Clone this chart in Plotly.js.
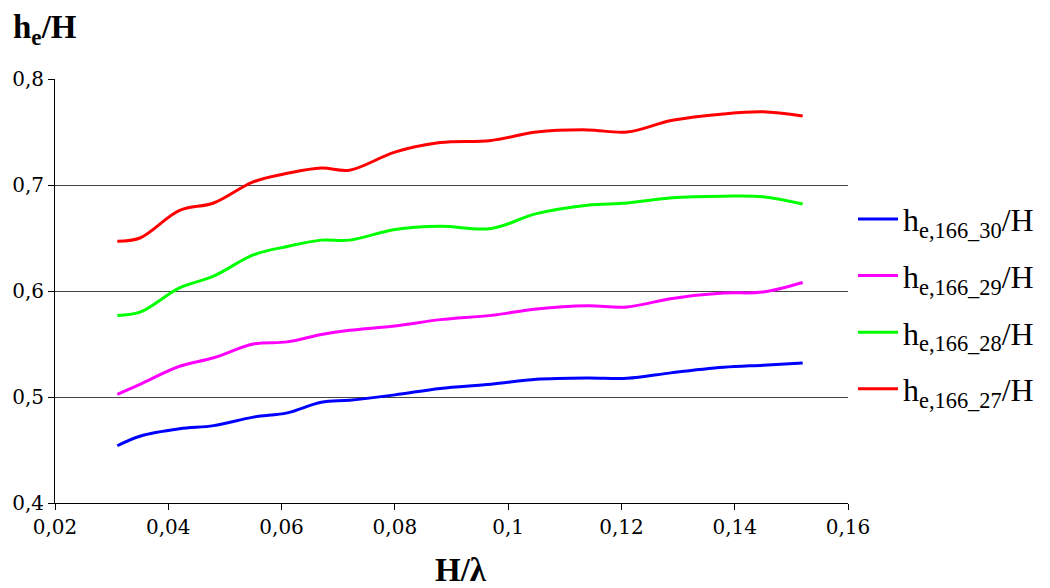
<!DOCTYPE html>
<html>
<head>
<meta charset="utf-8">
<script src="https://cdn.plot.ly/plotly-3.0.1.min.js"></script>
<style>html,body{margin:0;padding:0;background:#fff;}#chart{width:1050px;height:588px;}</style>
</head>
<body>
<div id="chart"></div>
<script>
const xValues = [0.031, 0.035, 0.042, 0.048, 0.055, 0.061, 0.067, 0.072, 0.080, 0.088, 0.097, 0.105, 0.114, 0.121, 0.129, 0.138, 0.145, 0.152];
const he30 = [0.454, 0.463, 0.470, 0.473, 0.481, 0.485, 0.495, 0.497, 0.502, 0.508, 0.512, 0.5167, 0.518, 0.5176, 0.523, 0.528, 0.530, 0.532];
const he29 = [0.5025, 0.512, 0.529, 0.537, 0.550, 0.552, 0.559, 0.563, 0.567, 0.573, 0.577, 0.583, 0.586, 0.585, 0.593, 0.598, 0.599, 0.608];
const he28 = [0.577, 0.580, 0.603, 0.614, 0.634, 0.642, 0.648, 0.648, 0.658, 0.661, 0.659, 0.673, 0.681, 0.683, 0.688, 0.6895, 0.689, 0.682];
const he27 = [0.647, 0.650, 0.676, 0.683, 0.703, 0.711, 0.716, 0.714, 0.731, 0.740, 0.742, 0.750, 0.752, 0.750, 0.761, 0.767, 0.769, 0.765];
const seriesNames = ['h<sub>e,166_30</sub>/H', 'h<sub>e,166_29</sub>/H', 'h<sub>e,166_28</sub>/H', 'h<sub>e,166_27</sub>/H'];
const seriesValues = [he30, he29, he28, he27];
const seriesColors = ['#0000ff', '#ff00ff', '#00ff00', '#ff0000'];

const traces = seriesValues.map((vals, i) => ({
  x: xValues, y: vals, name: seriesNames[i], type: 'scatter', mode: 'lines',
  legendgroup: 'g' + i,
  line: {color: seriesColors[i], width: 3, shape: 'spline', smoothing: 1}
}));

const serif = 'Liberation Serif';
const tickSerif = 'DejaVu Serif';
const layout = {
  width: 1050, height: 588,
  margin: {l: 55, r: 201, t: 79, b: 85},
  paper_bgcolor: '#fff', plot_bgcolor: '#fff',
  separators: ', ',
  font: {family: serif, color: '#000', size: 22},
  showlegend: true,
  legend: {x: 1.005, xanchor: 'left', y: 0.469, yanchor: 'middle', font: {family: serif, size: 32, color: '#000'}, bgcolor: 'rgba(0,0,0,0)', itemwidth: 40, tracegroupgap: 12},
  xaxis: {range: [0.02, 0.16], dtick: 0.02, tick0: 0.02, showgrid: false, zeroline: false, showline: true, linecolor: '#000', linewidth: 1, ticks: 'outside', ticklen: 6, tickcolor: '#000', tickfont: {family: tickSerif, size: 20}},
  yaxis: {range: [0.4, 0.8], dtick: 0.1, tick0: 0.4, showgrid: true, gridcolor: '#444', gridwidth: 1, zeroline: false, showline: true, linecolor: '#000', linewidth: 1, ticks: 'outside', ticklen: 6, tickcolor: '#000', tickfont: {family: tickSerif, size: 20}},
  annotations: [
    {text: '<b>h<sub>e</sub>/H</b>', xref: 'paper', yref: 'paper', x: -0.056, y: 1.17, xanchor: 'left', yanchor: 'top', showarrow: false, font: {family: serif, size: 33, color: '#000'}},
    {text: '<b>H/λ</b>', xref: 'paper', yref: 'paper', x: 0.512, y: -0.158, xanchor: 'center', yanchor: 'middle', showarrow: false, font: {family: serif, size: 33, color: '#000'}}
  ]
};
Plotly.newPlot('chart', traces, layout, {displayModeBar: false, staticPlot: true});
</script>
</body>
</html>
